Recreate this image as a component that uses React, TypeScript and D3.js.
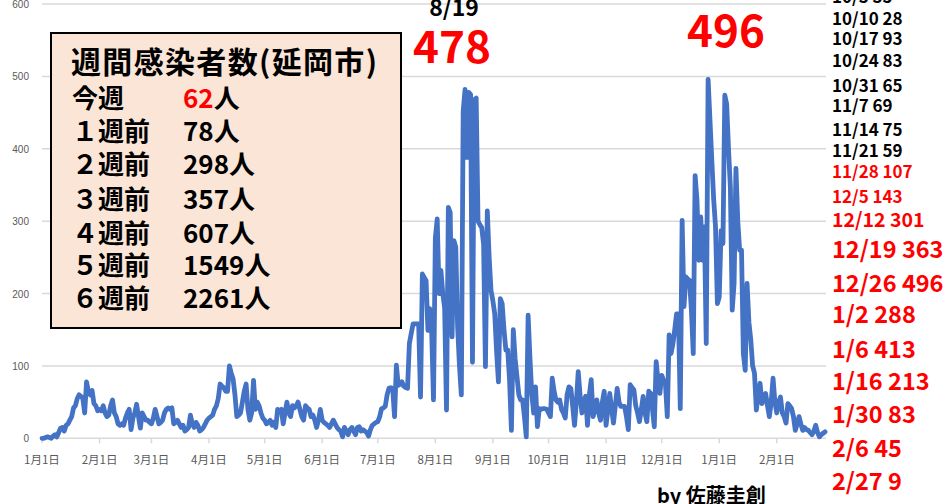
import React from "react";
import * as d3 from "d3";

// daily values, one array per month
const jan21 = [0,0,1,2,1,0,3,5,2,8,14,15,10,18,20,25,30,42,45,55,60,58,55,35,78,65,60,66,48,45,38];
const feb21 = [40,38,45,35,30,32,45,53,35,30,20,18,20,18,28,35,40,12,28,35,47,30,14,35,30,25,25,22];
const mar21 = [20,28,40,30,20,22,25,35,40,42,40,42,20,22,25,20,15,18,10,12,15,32,20,15,22,18,10,12,15,20,25];
const apr21 = [28,30,32,40,45,55,75,72,70,65,65,100,90,82,60,30,32,35,50,65,75,40,25,35,80,40,50,45,35,28];
const may21 = [25,20,22,25,18,22,15,40,38,40,20,35,50,35,30,45,42,45,50,40,30,25,45,42,40,30,32,25,15,25,40];
const jun21 = [25,22,20,18,15,20,25,20,15,12,10,2,15,10,5,12,15,10,5,15,16,10,12,10,8,3,12,18,20,22];
const jul21 = [23,30,41,42,44,60,69,70,69,30,101,73,75,78,72,70,69,131,145,158,158,158,158,57,227,222,218,149,179,149,53];
const aug21 = [277,303,200,232,200,180,39,319,312,140,273,264,154,100,60,452,482,388,478,475,105,468,470,300,295,291,268,99,314,250,204];
const sep21 = [190,172,120,78,193,186,150,122,122,80,11,150,110,85,60,53,53,30,2,170,110,60,35,71,16,41,40,41,41,40];
const oct21 = [35,30,83,65,53,50,53,40,35,28,60,71,69,45,18,50,92,60,35,50,58,18,60,81,30,40,53,35,25,50,65];
const nov21 = [18,40,62,40,21,45,69,50,44,44,44,30,12,74,70,67,45,35,23,40,58,35,23,65,62,40,16,106,80,62];
const dec21 = [87,80,76,30,143,117,130,150,172,172,41,301,182,223,220,218,177,117,363,329,246,306,246,292,131,496,440,384,330,292,186];
const jan22 = [195,287,269,474,462,400,347,177,214,373,300,260,260,117,94,214,160,136,100,90,39,60,76,48,55,62,45,30,50,83,50];
const feb22 = [35,50,57,35,30,21,48,45,41,30,11,20,30,20,11,15,12,11,8,5,10,18,8,2,5,7,9];

const daily = [
  ...jan21, ...feb21, ...mar21, ...apr21, ...may21, ...jun21, ...jul21,
  ...aug21, ...sep21, ...oct21, ...nov21, ...dec21, ...jan22, ...feb22,
];

const startDate = new Date(2021, 0, 1);
const endDate = new Date(2022, 1, 27);
const yTicks = [0, 100, 200, 300, 400, 500, 600];

// box with weekly totals
const boxTitle = "週間感染者数(延岡市)";
const weekLabels = ["今週", "１週前", "２週前", "３週前", "４週前", "５週前", "６週前"];
const weekCounts = ["62", "78", "298", "357", "607", "1549", "2261"];

// list on the right
const listDates = ["10/3", "10/10", "10/17", "10/24", "10/31", "11/7", "11/14", "11/21", "11/28", "12/5", "12/12", "12/19", "12/26", "1/2", "1/6", "1/16", "1/30", "2/6", "2/27"];
const listValues = [35, 28, 93, 83, 65, 69, 75, 59, 107, 143, 301, 363, 496, 288, 413, 213, 83, 45, 9];

const peakLabels = [
  { date: "8/19", value: "478" },
  { date: "", value: "496" },
];

const W = 945;
const H = 504;
const font = "'Noto Sans CJK JP', 'Noto Sans', sans-serif";

const App: React.FC = () => {
  const x = d3.scaleTime().domain([startDate, endDate]).range([42, 825]);
  const y = d3.scaleLinear().domain([0, 600]).range([438.3, 4]);

  const points = daily.map((v, i) => ({ date: d3.timeDay.offset(startDate, i), v }));
  const line = d3
    .line<{ date: Date; v: number }>()
    .x((d) => x(d.date))
    .y((d) => y(d.v));

  const months = d3.timeMonth.range(startDate, d3.timeDay.offset(endDate, 1));

  // baselines of the right list (layout only)
  const listY = [3, 25, 45, 67, 92, 112, 136, 157, 178, 203, 227, 258, 292, 323, 358, 390, 423, 457, 490];
  const listStyle = (i: number) => {
    if (i < 8) return { size: 17, color: "#000" };
    if (i < 10) return { size: 17, color: "#ff0000" };
    if (i < 11) return { size: 19.5, color: "#ff0000" };
    return { size: 23.5, color: "#ff0000" };
  };

  const rowY = [108, 141, 174, 209, 243, 275, 308];

  return (
    <svg
      width={W}
      height={H}
      style={{ position: "absolute", left: 0, top: 0, background: "#fff" }}
      fontFamily={font}
    >
      {/* grid */}
      {yTicks.map((t) => (
        <g key={t}>
          <line x1={42} x2={826} y1={y(t)} y2={y(t)} stroke="#d9d9d9" strokeWidth={1.5} />
          <text x={29} y={y(t) + 4} textAnchor="end" fontSize={10} fill="#595959" fontFamily="'Liberation Sans', sans-serif">
            {t}
          </text>
        </g>
      ))}

      {/* x ticks */}
      {months.map((m) => (
        <g key={m.toISOString()}>
          <line x1={x(m)} x2={x(m)} y1={y(0)} y2={y(0) + 5} stroke="#d9d9d9" strokeWidth={1.5} />
          <text x={x(m)} y={464} textAnchor="middle" fontSize={11.5} fill="#595959">
            {`${m.getMonth() + 1}月1日`}
          </text>
        </g>
      ))}

      <path
        d={line(points) || ""}
        fill="none"
        stroke="#4472c4"
        strokeWidth={4.8}
        strokeLinejoin="round"
        strokeLinecap="round"
      />

      {/* weekly box */}
      <rect x={51} y={33} width={350} height={295} fill="#fbe5d6" stroke="#000" strokeWidth={2} />
      <text x={71} y={73} fontSize={30} fontWeight="bold" fill="#000" textLength={306} lengthAdjust="spacing">
        {boxTitle}
      </text>
      {weekLabels.map((lab, i) => (
        <g key={lab}>
          <text x={72} y={rowY[i]} fontSize={26} fontWeight="bold" fill="#000">
            {lab}
          </text>
          <text x={183} y={rowY[i]} fontSize={26} fontWeight="bold">
            <tspan fill={i === 0 ? "#ff0000" : "#000"}>{weekCounts[i]}</tspan>
            <tspan fill="#000">人</tspan>
          </text>
        </g>
      ))}

      {/* peak labels */}
      <text x={454} y={16} textAnchor="middle" fontSize={23} fontWeight="bold" fill="#000">
        {peakLabels[0].date}
      </text>
      <text x={452} y={63} textAnchor="middle" fontSize={44} fontWeight="bold" fill="#ff0000">
        {peakLabels[0].value}
      </text>
      <text x={726} y={47} textAnchor="middle" fontSize={44} fontWeight="bold" fill="#ff0000">
        {peakLabels[1].value}
      </text>

      {/* right list */}
      {listDates.map((d, i) => {
        const s = listStyle(i);
        return (
          <text key={d} x={832} y={listY[i]} fontSize={s.size} fontWeight="bold" fill={s.color}>
            {`${d} ${listValues[i]}`}
          </text>
        );
      })}

      <text x={657} y={503} fontSize={20} fontWeight="bold" fill="#000">
        by 佐藤圭創
      </text>
    </svg>
  );
};

export default App;
